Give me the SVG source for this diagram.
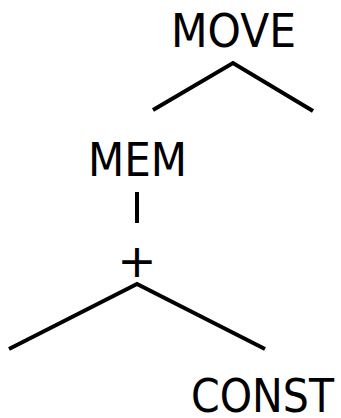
<svg xmlns="http://www.w3.org/2000/svg" width="341" height="418" viewBox="0 0 341 418">
<style>
text{font-family:"DejaVu Sans","Liberation Sans",sans-serif;font-size:47px;fill:#000}
.e{stroke:#000;stroke-width:4;fill:none}
</style>
<rect width="341" height="418" fill="#fff"/>
<g id="edges">
<polyline class="e" points="153,110 233,63 313,111"/>
<line class="e" x1="137" y1="192" x2="137" y2="223"/>
<polyline class="e" points="9,349 137,284 265,349"/>
</g>
<g id="move"><text x="171" y="47" textLength="125" lengthAdjust="spacingAndGlyphs">MOVE</text></g>
<g id="mem"><text x="88" y="176" textLength="99" lengthAdjust="spacingAndGlyphs">MEM</text></g>
<g id="plus"><text x="137" y="277" text-anchor="middle">+</text></g>
<g id="const"><text x="191" y="412" textLength="143" lengthAdjust="spacingAndGlyphs">CONST</text></g>
</svg>
